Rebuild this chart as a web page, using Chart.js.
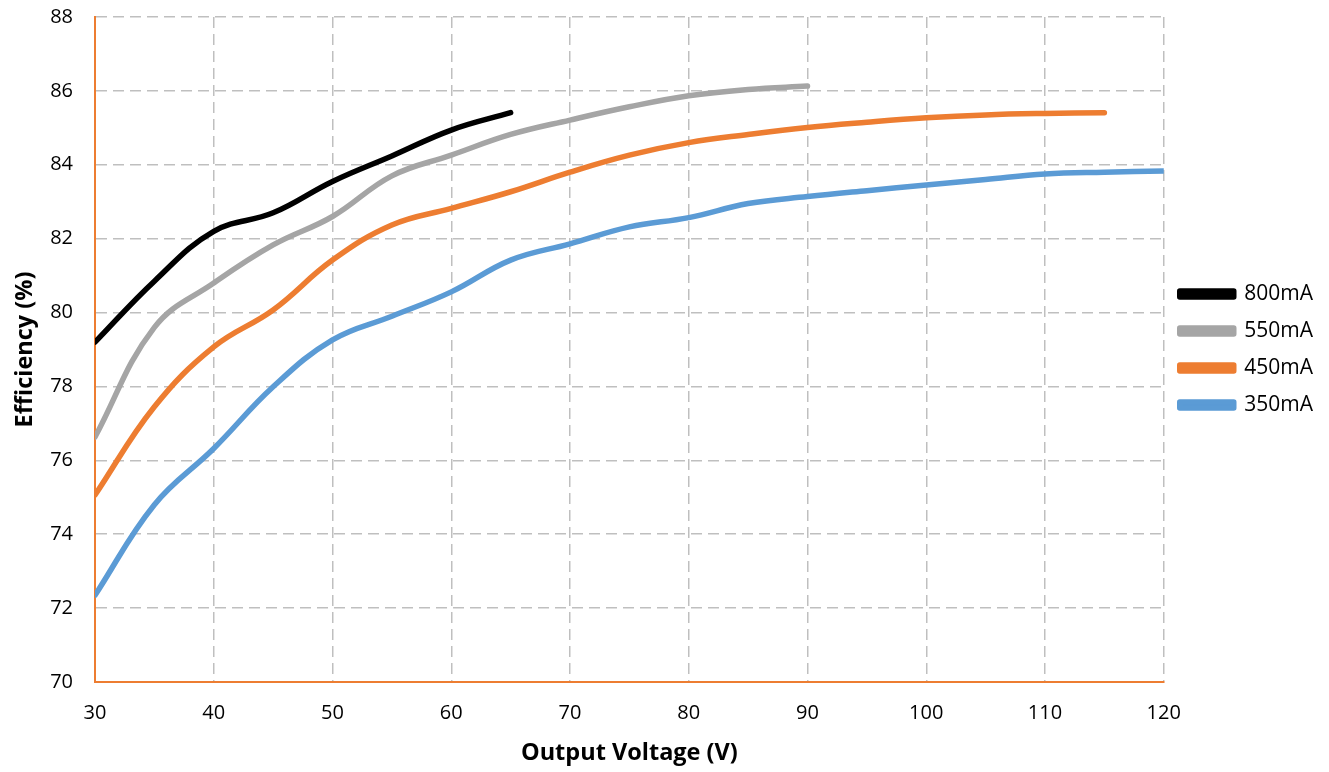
<!DOCTYPE html>
<html>
<head>
<meta charset="utf-8">
<script src="https://cdn.jsdelivr.net/npm/chart.js@4"></script>
<style>
  body { margin: 0; background: #fff; }
  #wrap { width: 1329px; height: 772px; position: relative; }
</style>
</head>
<body>
<div id="wrap"><canvas id="effChart"></canvas></div>
<script>
// Output voltage (V) – every 5 V from 30 to 120
const voltage = [30, 35, 40, 45, 50, 55, 60, 65, 70, 75, 80, 85, 90, 95, 100, 105, 110, 115, 120];

// Efficiency (%) per load current
const eff800 = [79.2, 80.85, 82.2, 82.7, 83.55, 84.24, 84.94, 85.41];
const eff550 = [76.63, 79.6, 80.8, 81.83, 82.6, 83.7, 84.26, 84.82, 85.21, 85.57, 85.87, 86.04, 86.13];
const eff450 = [75.06, 77.45, 79.07, 80.07, 81.42, 82.37, 82.82, 83.27, 83.8, 84.26, 84.6, 84.82, 85.01, 85.15, 85.27, 85.35, 85.39, 85.41];
const eff350 = [72.35, 74.8, 76.32, 77.99, 79.26, 79.9, 80.56, 81.42, 81.86, 82.32, 82.57, 82.95, 83.14, 83.3, 83.45, 83.6, 83.75, 83.8, 83.83];

const seriesNames = ["800mA", "550mA", "450mA", "350mA"];
const seriesColors = ["#000000", "#A5A5A5", "#ED7D31", "#5B9BD5"];
const seriesValues = [eff800, eff550, eff450, eff350];

const FONT = "'Open Sans', 'Liberation Sans', sans-serif";
const AXIS_ORANGE = "#ED7D31";
const GRID_GRAY = "#BFBFBF";

function toPoints(vals) {
  return vals.map((v, i) => ({ x: voltage[i], y: v }));
}

// hide the grid line that sits under the orange axis line
function gridColor(minVal) {
  return (c) => (c.tick && c.tick.value === minVal ? "rgba(0,0,0,0)" : GRID_GRAY);
}

const datasets = seriesNames.map((name, i) => ({
  label: name,
  data: toPoints(seriesValues[i]),
  borderColor: seriesColors[i],
  backgroundColor: seriesColors[i],
  borderWidth: 5.5,
  pointRadius: 0,
  tension: 0.4,
  borderCapStyle: "round",
  borderJoinStyle: "round",
}));

const ctx = document.getElementById("effChart").getContext("2d");
new Chart(ctx, {
  type: "line",
  data: { datasets: datasets },
  options: {
    responsive: true,
    maintainAspectRatio: false,
    animation: false,
    layout: { padding: { top: 17, right: 6, bottom: 0, left: 0 } },
    plugins: {
      tooltip: { enabled: false },
      legend: {
        position: "right",
        fullSize: false,
        labels: {
          color: "#000",
          font: { family: FONT, size: 21 },
          boxWidth: 54,
          boxHeight: 6,
          padding: 16,
        },
      },
    },
    scales: {
      x: {
        type: "linear",
        min: 30,
        max: 120,
        afterFit: (s) => { s.height = 90; s.paddingLeft = 0; s.paddingRight = 0; },
        ticks: { stepSize: 10, color: "#000", font: { family: FONT, size: 20 }, padding: 19 },
        grid: { color: gridColor(30), lineWidth: 1.5, drawTicks: false },
        border: { color: AXIS_ORANGE, width: 2, dash: [11, 6] },
        title: {
          display: true,
          text: "Output Voltage (V)",
          color: "#000",
          font: { family: FONT, size: 23.5, weight: "bold" },
          padding: { top: 0, bottom: 5 },
        },
      },
      y: {
        min: 70,
        max: 88,
        afterFit: (s) => { s.width = 95; s.paddingTop = 0; s.paddingBottom = 0; },
        ticks: { stepSize: 2, color: "#000", font: { family: FONT, size: 20 }, padding: 22 },
        grid: { color: gridColor(70), lineWidth: 1.5, drawTicks: false },
        border: { color: AXIS_ORANGE, width: 2, dash: [11, 6] },
        title: {
          display: true,
          text: "Efficiency (%)",
          color: "#000",
          font: { family: FONT, size: 23.5, weight: "bold" },
          padding: { top: 11, bottom: 0 },
        },
      },
    },
  },
});
</script>
</body>
</html>
